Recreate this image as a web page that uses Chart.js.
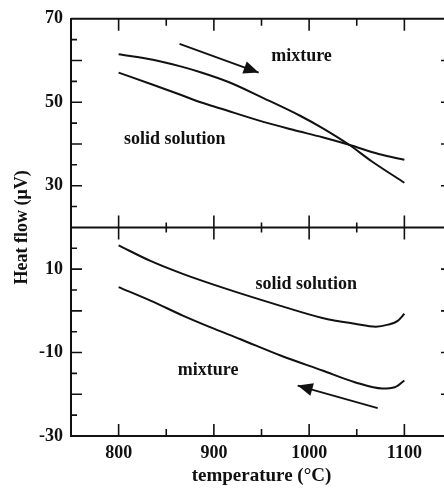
<!DOCTYPE html>
<html>
<head>
<meta charset="utf-8">
<script src="https://cdn.jsdelivr.net/npm/chart.js@4"></script>
<style>
    html, body { margin: 0; padding: 0; background: #fff; overflow: hidden; }
    #wrap { width: 460px; height: 491px; }
</style>
</head>
<body>
<div id="wrap"><canvas id="heatChart"></canvas></div>
<script>
// upper traces
const topMixTemp = [800, 836, 865, 886, 916, 952, 991, 1014, 1042, 1066, 1100];
const topMixFlow = [61.5, 60.2, 58.6, 57.2, 54.8, 51.0, 46.7, 43.8, 39.8, 35.8, 30.7];
const topSolTemp = [800, 836, 865, 886, 907, 952, 983, 1014, 1042, 1073, 1100];
const topSolFlow = [57.1, 54.2, 51.8, 50.0, 48.5, 45.3, 43.4, 41.6, 39.8, 37.6, 36.2];

// lower traces
const botSolTemp = [800, 834, 868, 914, 970, 1014, 1048, 1070, 1083, 1093, 1100];
const botSolFlow = [15.7, 11.9, 8.8, 5.2, 1.2, -1.7, -3.1, -3.8, -3.3, -2.4, -0.7];
const botMixTemp = [800, 834, 868, 896, 928, 970, 1014, 1048, 1077, 1090, 1100];
const botMixFlow = [5.7, 2.4, -1.2, -3.9, -6.8, -10.7, -14.3, -17.1, -18.6, -18.3, -16.7];

// text labels inside the plot
const labelText = ['mixture', 'solid solution', 'solid solution', 'mixture'];
const labelTemp = [992, 859, 997, 894];
const labelFlow = [61.0, 41.0, 6.4, -14.3];

// arrows (tail -> head)
const arrowFromTemp = [864, 1072];
const arrowFromFlow = [64.0, -23.3];
const arrowToTemp = [947, 988];
const arrowToFlow = [57.1, -17.9];

// axis ticks
const xLabelValues = [800, 900, 1000, 1100];
const yLabelValues = [-30, -10, 10, 30, 50, 70];
const dividerValue = 20;

const FONT = "'Liberation Serif', 'DejaVu Serif', serif";
const INK = '#111';

function toPoints(xs, ys) {
    return xs.map((x, i) => ({ x: x, y: ys[i] }));
}

function curve(xs, ys) {
    return {
        data: toPoints(xs, ys),
        borderColor: INK,
        borderWidth: 2,
        pointRadius: 0,
        fill: false,
        cubicInterpolationMode: 'monotone'
    };
}

const datasets = [
    curve(topMixTemp, topMixFlow),
    curve(topSolTemp, topSolFlow),
    curve(botSolTemp, botSolFlow),
    curve(botMixTemp, botMixFlow)
];
for (let i = 0; i < arrowFromTemp.length; i++) {
    datasets.push({
        data: [{ x: arrowFromTemp[i], y: arrowFromFlow[i] }, { x: arrowToTemp[i], y: arrowToFlow[i] }],
        borderColor: INK,
        borderWidth: 1.8,
        pointRadius: 0,
        fill: false
    });
}

const framePlugin = {
    id: 'frame',
    afterDatasetsDraw(chart) {
        const ctx = chart.ctx;
        const area = chart.chartArea;
        const xs = chart.scales.x;
        const ys = chart.scales.y;
        ctx.save();
        ctx.strokeStyle = INK;
        ctx.lineWidth = 2;

        // top and right edges, plus the panel divider
        const yDiv = ys.getPixelForValue(dividerValue);
        ctx.beginPath();
        ctx.moveTo(area.left, area.top);
        ctx.lineTo(area.right, area.top);
        ctx.lineTo(area.right, area.bottom);
        ctx.moveTo(area.left, yDiv);
        ctx.lineTo(area.right, yDiv);
        ctx.stroke();

        // x tick marks
        ctx.lineWidth = 1.6;
        ctx.beginPath();
        for (let t = 800; t <= 1100; t += 50) {
            const px = xs.getPixelForValue(t);
            const major = t % 100 === 0;
            const len = major ? 12 : 7;
            ctx.moveTo(px, area.bottom);
            ctx.lineTo(px, area.bottom - len);
            ctx.moveTo(px, area.top);
            ctx.lineTo(px, area.top + len);
            const half = major ? 12 : 5;
            ctx.moveTo(px, yDiv - half);
            ctx.lineTo(px, yDiv + half);
        }
        // y tick marks
        for (let v = -25; v <= 65; v += 5) {
            if (v === dividerValue) continue;
            const py = ys.getPixelForValue(v);
            const len = v % 10 === 0 ? 11 : 6;
            ctx.moveTo(area.left, py);
            ctx.lineTo(area.left + len, py);
            ctx.moveTo(area.right, py);
            ctx.lineTo(area.right - len, py);
        }
        ctx.stroke();

        // arrow heads
        ctx.fillStyle = INK;
        for (let i = 0; i < arrowFromTemp.length; i++) {
            const x0 = xs.getPixelForValue(arrowFromTemp[i]);
            const y0 = ys.getPixelForValue(arrowFromFlow[i]);
            const x1 = xs.getPixelForValue(arrowToTemp[i]);
            const y1 = ys.getPixelForValue(arrowToFlow[i]);
            const a = Math.atan2(y1 - y0, x1 - x0);
            const hl = 15, hw = 6.5;
            ctx.beginPath();
            ctx.moveTo(x1, y1);
            ctx.lineTo(x1 - hl * Math.cos(a) + hw * Math.sin(a), y1 - hl * Math.sin(a) - hw * Math.cos(a));
            ctx.lineTo(x1 - hl * Math.cos(a) - hw * Math.sin(a), y1 - hl * Math.sin(a) + hw * Math.cos(a));
            ctx.closePath();
            ctx.fill();
        }

        // labels
        ctx.font = 'bold 18px ' + FONT;
        ctx.textAlign = 'center';
        ctx.textBaseline = 'middle';
        for (let i = 0; i < labelText.length; i++) {
            ctx.fillText(labelText[i], xs.getPixelForValue(labelTemp[i]), ys.getPixelForValue(labelFlow[i]));
        }
        ctx.restore();
    }
};

new Chart(document.getElementById('heatChart').getContext('2d'), {
    type: 'line',
    data: { datasets: datasets },
    plugins: [framePlugin],
    options: {
        responsive: true,
        maintainAspectRatio: false,
        animation: false,
        layout: { padding: { top: 16, right: 8, left: 0, bottom: 0 } },
        plugins: {
            legend: { display: false },
            tooltip: { enabled: false }
        },
        scales: {
            x: {
                type: 'linear',
                min: 750,
                max: 1150,
                afterFit(scale) { scale.height = 55; },
                afterBuildTicks(scale) {
                    scale.ticks = xLabelValues.map(v => ({ value: v }));
                },
                ticks: {
                    color: INK,
                    padding: 7,
                    callback: v => String(v),
                    font: { family: FONT, size: 18, weight: 'bold' }
                },
                grid: { drawOnChartArea: false, drawTicks: false },
                border: { display: true, color: INK, width: 2 },
                title: {
                    display: true,
                    text: 'temperature (°C)',
                    color: INK,
                    padding: { top: 0, bottom: 4 },
                    font: { family: FONT, size: 19, weight: 'bold' }
                }
            },
            y: {
                min: -30,
                max: 70,
                afterFit(scale) { scale.width = 71; },
                afterBuildTicks(scale) {
                    scale.ticks = yLabelValues.map(v => ({ value: v }));
                },
                ticks: {
                    color: INK,
                    padding: 8,
                    callback: v => String(v),
                    font: { family: FONT, size: 18, weight: 'bold' }
                },
                grid: { drawOnChartArea: false, drawTicks: false },
                border: { display: true, color: INK, width: 2 },
                title: {
                    display: true,
                    text: 'Heat flow (μV)',
                    color: INK,
                    padding: { top: 12, bottom: 0 },
                    font: { family: FONT, size: 18, weight: 'bold' }
                }
            }
        }
    }
});
</script>
</body>
</html>
